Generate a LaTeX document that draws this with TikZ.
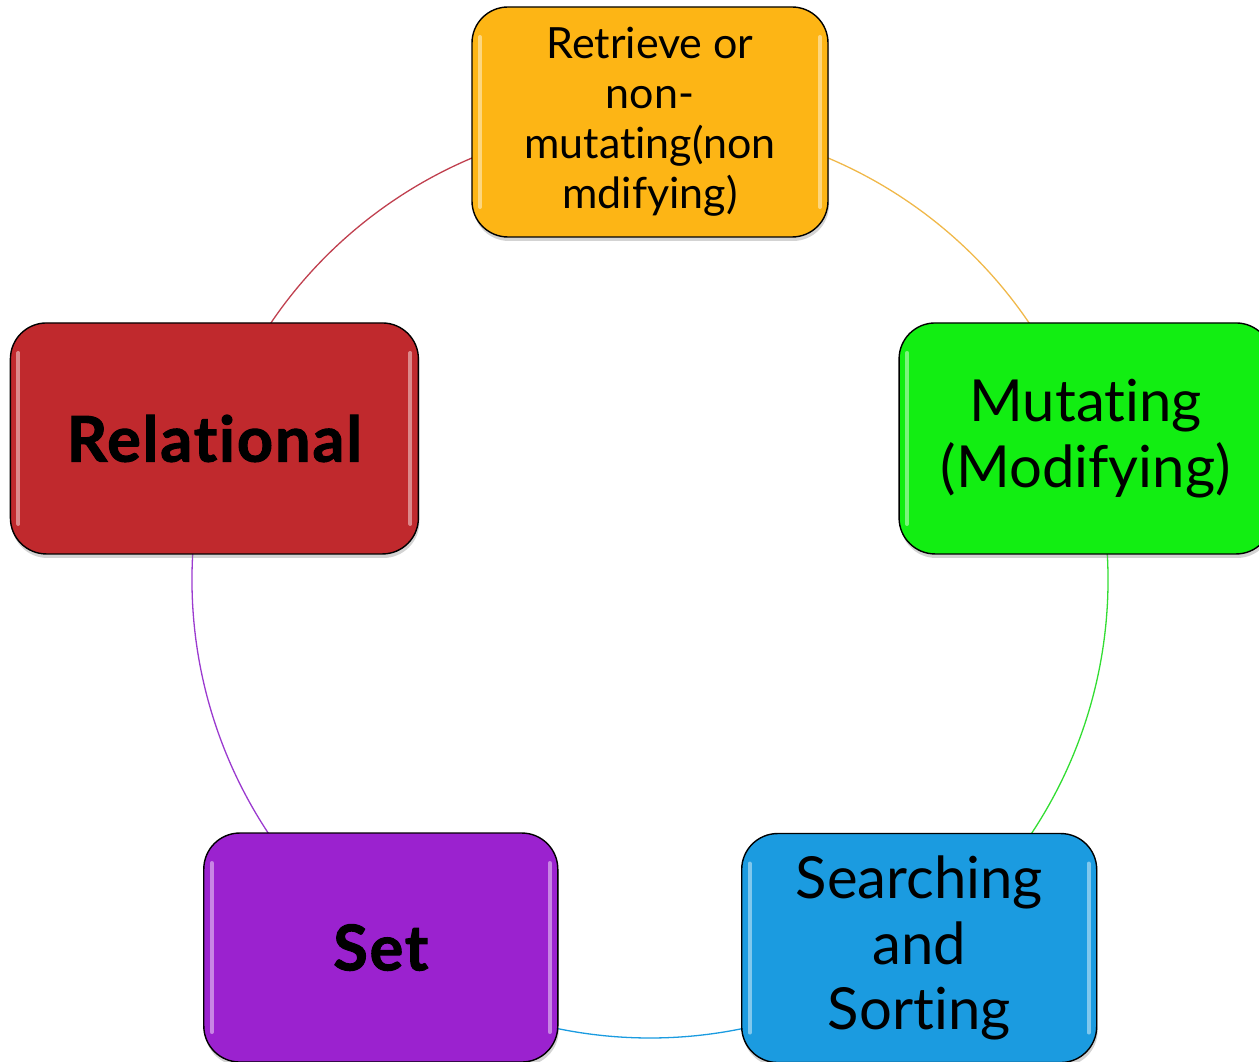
\documentclass[tikz,border=0pt]{standalone}
\usepackage{fontspec}
\setmainfont{Lato}[Ligatures={NoCommon,NoContextual}, BoldFeatures={FakeBold=1.6, LetterSpace=3}]
\usetikzlibrary{shadows,calc}
\definecolor{cret}{HTML}{FDB515}
\definecolor{cmut}{HTML}{12EE12}
\definecolor{csea}{HTML}{1B9BE0}
\definecolor{cset}{HTML}{9B22CF}
\definecolor{crel}{HTML}{C0292D}
\definecolor{aret}{HTML}{F0B84A}
\definecolor{amut}{HTML}{33DD33}
\definecolor{asea}{HTML}{1A9BE0}
\definecolor{aset}{HTML}{9B3BCF}
\definecolor{arel}{HTML}{C0404F}
\begin{document}
\begin{tikzpicture}[x=1pt,y=1pt,
  box/.style={draw=black, line width=1.4pt, rounded corners=36pt, fill=#1,
    align=center, text=black, inner sep=0pt,
    drop shadow={shadow xshift=1pt, shadow yshift=-4pt, opacity=0.35},
    path picture={
      \draw[white, opacity=0.45, line width=4pt, line cap=round]
        ([xshift=8pt,yshift=-30pt]path picture bounding box.north west) --
        ([xshift=8pt,yshift=30pt]path picture bounding box.south west);
      \draw[white, opacity=0.45, line width=4pt, line cap=round]
        ([xshift=-8pt,yshift=-30pt]path picture bounding box.north east) --
        ([xshift=-8pt,yshift=30pt]path picture bounding box.south east);
    }},
  arcline/.style={line width=1.3pt},
  thin/.style={font=\fontsize{43}{50}\selectfont},
  big/.style={font=\fontsize{58}{65.5}\selectfont},
  bold/.style={font=\fontsize{63}{66}\selectfont\bfseries}
]
\useasboundingbox (0,0) rectangle (1259,1061);
\coordinate (c) at (650,481);
\def\R{458}
% circle arcs
\coordinate (pret) at ($(c)+(90:\R)$);
\coordinate (pmut) at ($(c)+(18:\R)$);
\coordinate (psea) at ($(c)+(-54:\R)$);
\coordinate (pset) at ($(c)+(-126:\R)$);
\coordinate (prel) at ($(c)+(162:\R)$);
\draw[arcline, arel] (prel) arc[start angle=162, end angle=90, radius=\R];
\draw[arcline, aret] (pret) arc[start angle=90, end angle=18, radius=\R];
\draw[arcline, amut] (pmut) arc[start angle=18, end angle=-54, radius=\R];
\draw[arcline, asea] (psea) arc[start angle=-54, end angle=-126, radius=\R];
\draw[arcline, aset] (pset) arc[start angle=-126, end angle=-198, radius=\R];
% boxes
\node[box=cret, thin, minimum width=356pt, minimum height=230pt] (ret) at (pret)
  {Retrieve or\\non-\\mutating(non\\mdifying)};
\node[box=cmut, big, minimum width=373pt, minimum height=231pt] (mut) at (pmut)
  {Mutating\\(Modifying)};
\node[box=csea, big, minimum width=355pt, minimum height=229pt] (sea) at ($(psea)+(0,2.5)$)
  {Searching\\and\\Sorting};
\node[box=cset, bold, minimum width=354pt, minimum height=229pt] (set) at ($(pset)+(0,3)$)
  {Set};
\node[box=crel, bold, minimum width=408pt, minimum height=231pt] (rel) at (prel)
  {Relational};
\end{tikzpicture}
\end{document}
